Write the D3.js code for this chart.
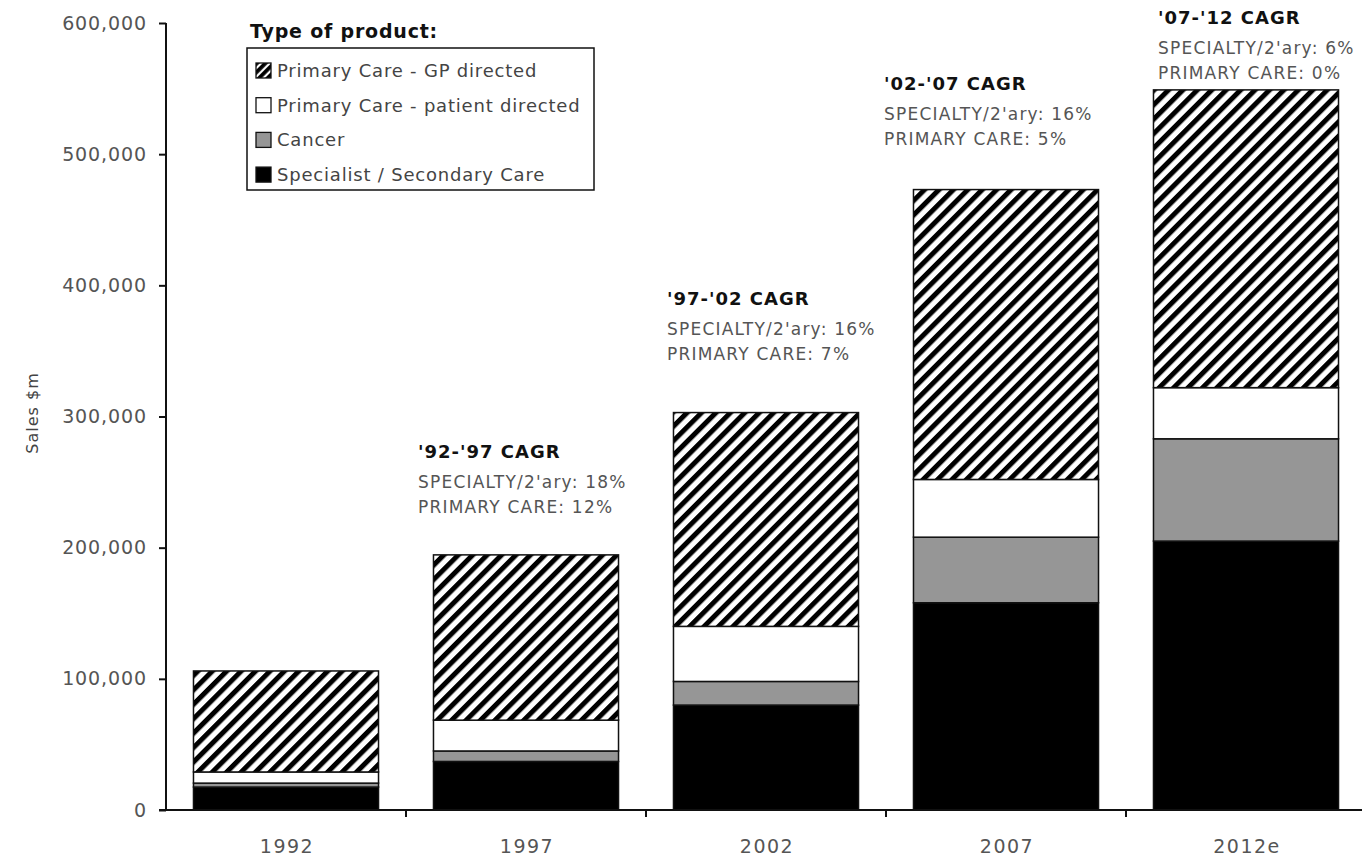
<!DOCTYPE html>
<meta charset="utf-8">
<head>
    <script src="https://d3js.org/d3.v7.min.js"></script>
    <style>
        body { margin: 0; background: white; }
        text { font-family: "DejaVu Sans", sans-serif; }
    </style>
</head>
<body>
<div id="chart"></div>
<script>
    // chart data
    const years = ["1992", "1997", "2002", "2007", "2012e"];
    const specialist = [17500, 37000, 80000, 158000, 205000];
    const cancer = [3000, 8000, 18000, 50000, 78000];
    const patientDirected = [8500, 23500, 42000, 44000, 39000];
    const gpDirected = [77000, 126000, 163000, 221000, 227000];

    const yTicks = [0, 100000, 200000, 300000, 400000, 500000, 600000];

    const cagrPeriods = ["'92-'97", "'97-'02", "'02-'07", "'07-'12"];
    const specialtyCagr = [18, 16, 16, 6];
    const primaryCagr = [12, 7, 5, 0];

    const legendLabels = [
        "Primary Care - GP directed",
        "Primary Care - patient directed",
        "Cancer",
        "Specialist / Secondary Care"
    ];

    const keys = ["specialist", "cancer", "patient", "gp"];
    const fills = { specialist: "#000", cancer: "#969696", patient: "#fff", gp: "url(#hatch)" };

    const table = years.map((y, i) => ({
        year: y,
        specialist: specialist[i],
        cancer: cancer[i],
        patient: patientDirected[i],
        gp: gpDirected[i]
    }));

    const width = 1362, height = 856;
    const svg = d3.select("#chart").append("svg")
        .attr("width", width)
        .attr("height", height)

    const defs = svg.append("defs");
    const hatch = defs.append("pattern")
        .attr("id", "hatch")
        .attr("patternUnits", "userSpaceOnUse")
        .attr("width", 10.2)
        .attr("height", 10.2)
        .attr("patternTransform", "rotate(45)");
    hatch.append("rect").attr("width", 10.2).attr("height", 10.2).attr("fill", "#fff");
    hatch.append("rect").attr("width", 5).attr("height", 10.2).attr("fill", "#000");

    const hatchSmall = defs.append("pattern")
        .attr("id", "hatchSmall")
        .attr("patternUnits", "userSpaceOnUse")
        .attr("width", 6)
        .attr("height", 6)
        .attr("patternTransform", "rotate(45)");
    hatchSmall.append("rect").attr("width", 6).attr("height", 6).attr("fill", "#fff");
    hatchSmall.append("rect").attr("width", 3.8).attr("height", 6).attr("fill", "#000");

    const x = d3.scaleBand()
        .domain(years)
        .range([166, 1366])
        .paddingInner(0.229)
        .paddingOuter(0.1145);

    const y = d3.scaleLinear()
        .domain([0, 600000])
        .range([810, 23]);

    const stacked = d3.stack().keys(keys)(table);

    // bars
    svg.append("g")
        .selectAll("g")
        .data(stacked)
        .enter()
        .append("g")
        .attr("fill", d => fills[d.key])
        .selectAll("rect")
        .data(d => d)
        .enter()
        .append("rect")
        .attr("x", d => x(d.data.year))
        .attr("y", d => y(d[1]))
        .attr("width", x.bandwidth())
        .attr("height", d => y(d[0]) - y(d[1]))
        .attr("stroke", "#111")
        .attr("stroke-width", 1.5);

    // y axis
    const leftAxis = d3.axisLeft(y)
        .tickValues(yTicks)
        .tickFormat(d3.format(","))
        .tickSize(7)
        .tickPadding(12);

    const gy = svg.append("g")
        .attr("transform", "translate(166, 0)")
        .call(leftAxis);
    gy.select(".domain").attr("stroke", "#111").attr("stroke-width", 2).attr("d", "M0,23V810");
    gy.selectAll(".tick line").attr("stroke", "#111").attr("stroke-width", 2);
    gy.selectAll(".tick text")
        .attr("font-size", 19)
        .attr("font-family", "DejaVu Sans")
        .attr("letter-spacing", 0.9)
        .attr("fill", "#555");

    // x axis
    const gx = svg.append("g")
        .attr("transform", "translate(0, 810)");
    gx.append("line")
        .attr("x1", 159).attr("x2", 1362)
        .attr("stroke", "#111").attr("stroke-width", 2);
    gx.selectAll(".xtick")
        .data(years.slice(1))
        .enter()
        .append("line")
        .attr("x1", d => x(d) - x.step() * x.paddingInner() / 2)
        .attr("x2", d => x(d) - x.step() * x.paddingInner() / 2)
        .attr("y1", 0).attr("y2", 7)
        .attr("stroke", "#111").attr("stroke-width", 2);
    gx.selectAll(".xlabel")
        .data(years)
        .enter()
        .append("text")
        .attr("x", d => x(d) + x.bandwidth() / 2 + 1)
        .attr("y", 43)
        .attr("text-anchor", "middle")
        .attr("font-size", 19)
        .attr("letter-spacing", 1.5)
        .attr("fill", "#555")
        .text(d => d);

    // y axis title
    svg.append("text")
        .attr("transform", "translate(38, 413) rotate(-90)")
        .attr("text-anchor", "middle")
        .attr("font-size", 16)
        .attr("letter-spacing", 1)
        .attr("fill", "#444")
        .text("Sales $m");

    // legend
    const legend = svg.append("g").attr("class", "legend");
    legend.append("text")
        .attr("x", 250)
        .attr("y", 38)
        .attr("font-size", 19)
        .attr("font-weight", "bold")
        .attr("letter-spacing", 0.8)
        .attr("fill", "#111")
        .text("Type of product:");
    legend.append("rect")
        .attr("x", 247).attr("y", 48)
        .attr("width", 347).attr("height", 142)
        .attr("fill", "none")
        .attr("stroke", "#111")
        .attr("stroke-width", 1.5);
    const legendFills = ["url(#hatchSmall)", "#fff", "#969696", "#000"];
    const items = legend.selectAll(".item")
        .data(legendLabels)
        .enter()
        .append("g")
        .attr("transform", (d, i) => `translate(256, ${70 + i * 34.7})`);
    items.append("rect")
        .attr("x", 0).attr("y", -7)
        .attr("width", 15).attr("height", 15)
        .attr("fill", (d, i) => legendFills[i])
        .attr("stroke", "#111")
        .attr("stroke-width", 1.3);
    items.append("text")
        .attr("x", 21)
        .attr("y", 7)
        .attr("font-size", 18)
        .attr("letter-spacing", 0.8)
        .attr("fill", "#444")
        .text(d => d);

    // CAGR annotations
    const annoPos = [[418, 458], [667, 305], [884, 90], [1158, 24]];
    const anno = svg.selectAll(".anno")
        .data(cagrPeriods)
        .enter()
        .append("g")
        .attr("transform", (d, i) => `translate(${annoPos[i][0]}, ${annoPos[i][1]})`);
    anno.append("text")
        .attr("font-size", 18)
        .attr("font-weight", "bold")
        .attr("letter-spacing", 1)
        .attr("fill", "#111")
        .text(d => d + " CAGR");
    anno.append("text")
        .attr("y", 30)
        .attr("font-size", 17)
        .attr("letter-spacing", 1.2)
        .attr("fill", "#555")
        .text((d, i) => `SPECIALTY/2'ary: ${specialtyCagr[i]}%`);
    anno.append("text")
        .attr("y", 55)
        .attr("font-size", 17)
        .attr("letter-spacing", 1.2)
        .attr("fill", "#555")
        .text((d, i) => `PRIMARY CARE: ${primaryCagr[i]}%`);
</script>
</body>
